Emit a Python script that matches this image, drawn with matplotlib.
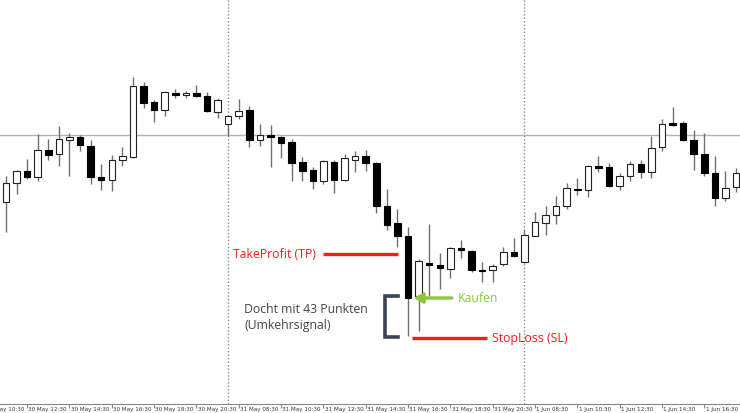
import numpy as np
import matplotlib.pyplot as plt
from matplotlib.transforms import blended_transform_factory

# Kerzen (30-Minuten), Werte in Chart-Einheiten
opens = [211, 230, 242, 236, 263, 259, 273, 276, 267, 236, 233, 253, 256, 327, 311, 303, 320, 318, 320, 317,
         301, 289, 297, 303, 273, 278, 276, 271, 251, 243, 232, 251, 233, 253, 257, 250, 207, 190, 177, 117,
         150, 148, 144, 165, 162, 143, 143, 149, 161, 151, 177, 190, 198, 207, 224, 223, 247, 246, 227, 237,
         249, 241, 266, 290, 290, 273, 259, 240, 215, 226]
highs = [237, 243, 254, 279, 274, 287, 280, 278, 273, 249, 258, 266, 336, 331, 313, 322, 324, 322, 328, 321,
         315, 298, 314, 307, 289, 288, 277, 274, 256, 246, 253, 253, 259, 262, 263, 251, 224, 204, 186, 154,
         189, 160, 166, 173, 163, 151, 149, 166, 175, 183, 201, 207, 217, 230, 235, 248, 257, 250, 240, 252,
         253, 277, 294, 306, 292, 283, 280, 257, 242, 245]
lows = [181, 219, 234, 232, 253, 247, 237, 262, 229, 223, 222, 247, 255, 305, 291, 297, 315, 315, 316, 301,
        295, 277, 294, 266, 267, 246, 255, 232, 232, 224, 229, 220, 232, 241, 242, 200, 183, 166, 77, 82,
        117, 124, 135, 155, 141, 131, 131, 147, 156, 150, 177, 178, 189, 204, 218, 216, 241, 226, 223, 232,
        235, 235, 262, 287, 272, 243, 237, 207, 212, 221]
closes = [230, 242, 236, 263, 258, 274, 276, 268, 236, 233, 253, 257, 327, 310, 303, 321, 318, 320, 317, 302,
          313, 297, 302, 273, 278, 276, 270, 250, 242, 232, 252, 233, 255, 257, 250, 207, 188, 177, 115, 152,
          148, 145, 165, 163, 143, 142, 147, 161, 157, 178, 191, 198, 207, 225, 223, 247, 245, 227, 237, 249,
          241, 265, 289, 288, 273, 259, 240, 215, 225, 240]

tick_pos = [-2, 2, 6, 10, 14, 18, 22, 26, 30, 34, 38, 42, 46, 50, 54, 58, 62, 66]
tick_labels = ["30 May 10:30", "30 May 12:30", "30 May 14:30", "30 May 16:30", "30 May 18:30", "30 May 20:30",
               "31 May 08:30", "31 May 10:30", "31 May 12:30", "31 May 14:30", "31 May 16:30", "31 May 18:30",
               "31 May 20:30", "1 Jun 08:30", "1 Jun 10:30", "1 Jun 12:30", "1 Jun 14:30", "1 Jun 16:30"]
day_breaks = [21, 49]
level = 278  # horizontale Linie

fig = plt.figure(figsize=(7.4, 4.14), dpi=100)
ax = fig.add_axes([0, 9/414, 1, 405/414])

x = np.arange(len(opens))
o = np.array(opens, float)
c = np.array(closes, float)
up = c >= o

# Dochte
ax.vlines(x, lows, highs, color="#707070", lw=1, zorder=2)
# Koerper
bottom = np.minimum(o, c)
height = np.maximum(np.abs(c - o), 1.5)
ax.bar(x[up], height[up], bottom=bottom[up], width=0.62, color="white", edgecolor="#222222", lw=0.8, zorder=3)
ax.bar(x[~up], height[~up], bottom=bottom[~up], width=0.62, color="black", edgecolor="black", lw=0.8, zorder=3)

ax.axhline(level, color="#a3b6c9", lw=1, zorder=1)
for d in day_breaks:
    ax.axvline(d, color="#8a8a8a", lw=1, ls=(0, (1, 1.5)), zorder=1)

# Achse unten
for s in ["top", "left", "right"]:
    ax.spines[s].set_visible(False)
ax.spines["bottom"].set_color("#888888")
ax.set_yticks([])
ax.set_xticks(tick_pos)
ax.set_xticklabels([])
ax.tick_params(axis="x", direction="out", length=3, color="#888888")
ax.set_xlim(-6/10.58, 734/10.58)
ax.set_ylim(9, 414)
tr = blended_transform_factory(ax.transData, ax.transAxes)
for p, lab in zip(tick_pos, tick_labels):
    ax.text(p + 0.12, -0.004, lab, transform=tr, fontsize=4.1, ha="left", va="top",
            color="#333333", clip_on=False)

# Anmerkungen
red = "#ff1a1a"
green = "#8cc63f"
fs = 8.8
ax.plot([29.96, 37.05], [159, 159], color=red, lw=2.4, solid_capstyle="butt", zorder=4)
ax.text(29.3, 159, "TakeProfit (TP)", color=red, fontsize=fs, family="Open Sans", ha="right", va="center")

ax.plot([37.05, 35.85, 35.85, 37.05], [117, 117, 76, 76], color="#3a4452", lw=2.6,
        solid_joinstyle="miter", zorder=4)
ax.text(22.5, 104, "Docht mit 43 Punkten", color="#444444", fontsize=fs, family="Open Sans", ha="left", va="center")
ax.text(22.5, 88, "(Umkehrsignal)", color="#444444", fontsize=fs, family="Open Sans", ha="left", va="center")

ax.annotate("", xy=(38.56, 115), xytext=(42.15, 115),
            arrowprops=dict(arrowstyle="-|>,head_length=0.5,head_width=0.3", color=green, lw=2.4,
                            shrinkA=0, shrinkB=0), zorder=4)
ax.text(42.7, 115, "Kaufen", color=green, fontsize=fs, family="Open Sans", ha="left", va="center")

ax.plot([38.37, 45.46], [75, 75], color=red, lw=2.4, solid_capstyle="butt", zorder=4)
ax.text(45.9, 75, "StopLoss (SL)", color=red, fontsize=fs, family="Open Sans", ha="left", va="center")

fig.savefig("out.png", dpi=100)
